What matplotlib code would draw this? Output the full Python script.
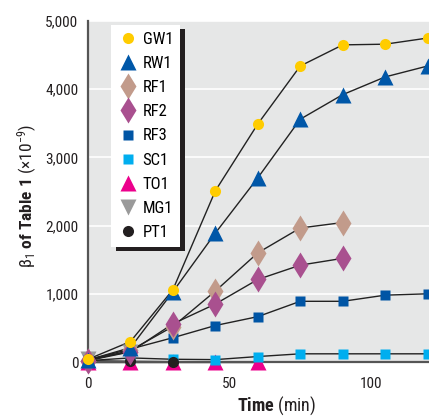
import matplotlib
matplotlib.use('Agg')
import matplotlib.pyplot as plt
import matplotlib.ticker as ticker
from matplotlib import font_manager
from matplotlib.patches import Rectangle
from matplotlib.transforms import IdentityTransform

# prefer a condensed sans if one is installed
installed = {f.name for f in font_manager.fontManager.ttflist}
wanted = ['Roboto Condensed', 'Liberation Sans Narrow', 'Open Sans Condensed',
          'DejaVu Sans Condensed', 'Liberation Sans']
FAMILY = next(f for f in wanted if f in installed)
NARROW = FAMILY != 'Liberation Sans'

plt.rcParams['font.family'] = [FAMILY, 'DejaVu Sans']
plt.rcParams['mathtext.fontset'] = 'custom'
plt.rcParams['mathtext.rm'] = FAMILY
plt.rcParams['mathtext.it'] = FAMILY + ':italic'
plt.rcParams['mathtext.bf'] = FAMILY + ':bold'

# sampling times (min)
time = [0, 15, 30, 45, 60, 75, 90, 105, 120]

# beta_1 values (x1e-9) per sample
gw1 = [40, 300, 1060, 2510, 3490, 4340, 4650, 4660, 4750]
rw1 = [30, 210, 1030, 1890, 2700, 3560, 3920, 4180, 4340]
rf1 = [20, 170, 520, 1040, 1600, 1965, 2045]
rf2 = [20, 150, 560, 850, 1210, 1420, 1520]
rf3 = [30, 190, 356, 535, 665, 890, 890, 980, 1000]
sc1 = [20, 60, 40, 35, 80, 120, 120, 120, 120]
to1 = [0, 0, 0, 0, 0]
mg1 = [40, 150]
pt1 = [20, 10, 5]

labels = ['GW1', 'RW1', 'RF1', 'RF2', 'RF3', 'SC1', 'TO1', 'MG1', 'PT1']
series = [gw1, rw1, rf1, rf2, rf3, sc1, to1, mg1, pt1]
markers = ['o', '^', 'd', 'd', 's', 's', '^', 'v', 'o']
colors = ['#FFCC00', '#0057A8', '#C29B8B', '#A9508F', '#0055A5',
          '#00AEEF', '#EC008C', '#9A9A9A', '#231F20']
sizes = [8, 11, 13, 13, 7.8, 7.8, 11, 11, 8]
# draw order, bottom to top
order = [6, 5, 8, 7, 4, 2, 3, 1, 0]

fs_tick = 11 if NARROW else 10
fs_leg = 12 if NARROW else 10
fs_lab = 12.5 if NARROW else 10.5

fig = plt.figure(figsize=(4.29, 4.17), dpi=100)
ax = fig.add_axes([88/429, 1 - 362/417, 341/429, 341/417])
ax.set_facecolor('#E6E7E7')

handles = {}
for i in order:
    y = series[i]
    x = time[:len(y)]
    ax.plot(x, y, color='#222222', lw=1.0, zorder=2, clip_on=False)
    h, = ax.plot(x, y, ls='none', marker=markers[i], ms=sizes[i],
                 color=colors[i], mec='none', zorder=3 + order.index(i) * 0.01,
                 clip_on=False, label=labels[i])
    handles[i] = h

ax.set_xlim(0, 120.5)
ax.set_ylim(0, 5000)
ax.set_xticks([0, 50, 100])
ax.set_yticks([0, 1000, 2000, 3000, 4000, 5000])
ax.yaxis.set_major_formatter(ticker.FuncFormatter(lambda v, p: f'{int(v):,}'))
ax.tick_params(axis='both', length=0, labelsize=fs_tick, colors='#231F20')
ax.tick_params(axis='x', pad=11)
ax.tick_params(axis='y', pad=7)
ax.grid(axis='y', color='white', lw=1.2)
ax.set_axisbelow(True)
for s in ['top', 'right']:
    ax.spines[s].set_visible(False)
for s in ['left', 'bottom']:
    ax.spines[s].set_color('#555555')
    ax.spines[s].set_linewidth(1.6)

leg = ax.legend([handles[i] for i in range(9)], labels, loc='upper left',
                bbox_to_anchor=(0.067, 0.988), borderaxespad=0,
                frameon=True, fancybox=False, framealpha=1, edgecolor='none',
                facecolor='white', fontsize=fs_leg,
                labelspacing=0.55 if NARROW else 0.75,
                handlelength=1.3, handletextpad=0.2, borderpad=0.4,
                numpoints=1)
leg.set_zorder(10)

fig.text(27/429, 1 - 196/417,
         r'$\mathrm{\beta}_1$ $\mathbf{of\ Table\ 1}$ (×10$^{-9}$)',
         rotation=90, ha='center', va='center', fontsize=fs_lab,
         color='#231F20')
fig.text(277/429, 6/417, r'$\mathbf{Time}$ (min)', ha='center',
         va='baseline', fontsize=fs_lab + 0.5, color='#231F20')

# dark drop shadow behind the legend box
fig.canvas.draw()
bb = leg.get_window_extent()
ax.add_artist(Rectangle((bb.x0 + 5, bb.y0 - 4), bb.width, bb.height,
                        transform=IdentityTransform(), facecolor='#231F20',
                        edgecolor='none', zorder=9))

fig.savefig('out.png', dpi=100)
